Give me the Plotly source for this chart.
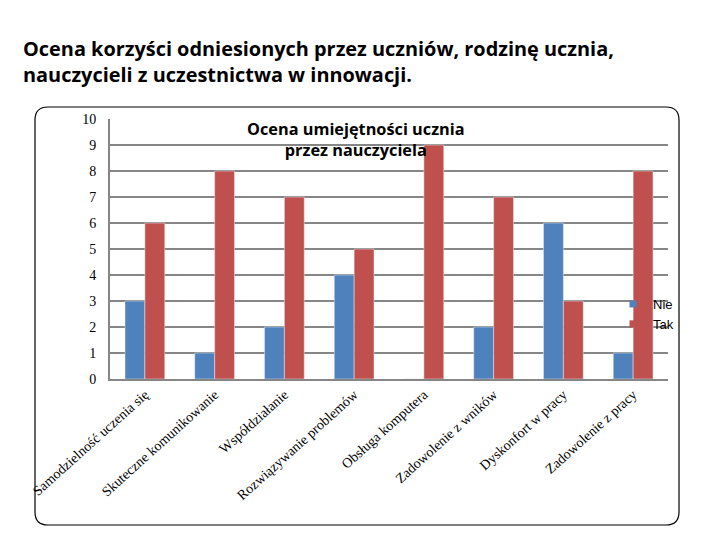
import plotly.graph_objects as go

categories = ["Samodzielność uczenia się", "Skuteczne komunikowanie", "Współdziałanie",
              "Rozwiązywanie problemów", "Obsługa komputera", "Zadowolenie z wników",
              "Dyskonfort w pracy", "Zadowolenie z pracy"]
nie = [3, 1, 2, 4, 0, 2, 6, 1]
tak = [6, 8, 7, 5, 9, 7, 3, 8]
y_ticks = [0, 1, 2, 3, 4, 5, 6, 7, 8, 9, 10]
blue, red = "#4F81BD", "#C0504D"

W, H = 720, 540
L, R, T, B = 110, 668, 119, 379

def px(x):
    return (x - L) / (R - L)

def py(y):
    return (B - y) / (B - T)

fig = go.Figure()
fig.add_trace(go.Bar(x=categories, y=nie, name="Nie", marker_color=blue, showlegend=False))
fig.add_trace(go.Bar(x=categories, y=tak, name="Tak", marker_color=red, showlegend=False))
# legend entries (small square markers, like the original)
fig.add_trace(go.Scatter(x=[None], y=[None], mode="markers", name="Nie",
                         marker=dict(symbol="square", size=7, color=blue)))
fig.add_trace(go.Scatter(x=[None], y=[None], mode="markers", name="Tak",
                         marker=dict(symbol="square", size=7, color=red)))

# rounded rectangle frame
x0, y0, x1, y1, r = 35, 107, 679, 525, 13
path = (f"M {px(x0 + r)},{py(y0)} L {px(x1 - r)},{py(y0)} Q {px(x1)},{py(y0)} {px(x1)},{py(y0 + r)} "
        f"L {px(x1)},{py(y1 - r)} Q {px(x1)},{py(y1)} {px(x1 - r)},{py(y1)} "
        f"L {px(x0 + r)},{py(y1)} Q {px(x0)},{py(y1)} {px(x0)},{py(y1 - r)} "
        f"L {px(x0)},{py(y0 + r)} Q {px(x0)},{py(y0)} {px(x0 + r)},{py(y0)} Z")

fig.update_layout(
    width=W, height=H,
    margin=dict(l=L, r=W - R, t=T, b=H - B, pad=0),
    paper_bgcolor="white", plot_bgcolor="white",
    barmode="group", bargap=0.43, bargroupgap=0.0,
    showlegend=True,
    legend=dict(x=px(613), y=py(289), xanchor="left", yanchor="top",
                bgcolor="rgba(0,0,0,0)", itemwidth=30,
                font=dict(family="Liberation Sans, Arial", size=13, color="black"),
                tracegroupgap=0),
    shapes=[dict(type="path", path=path, xref="paper", yref="paper",
                 line=dict(color="black", width=1.2), fillcolor="rgba(0,0,0,0)", layer="below")],
    annotations=[
        dict(text="<b>Ocena korzyści odniesionych przez uczniów, rodzinę ucznia,<br>nauczycieli z uczestnictwa w innowacji.</b>",
             x=px(21), y=py(33), xref="paper", yref="paper", xanchor="left", yanchor="top",
             align="left", showarrow=False,
             font=dict(family="Open Sans, Liberation Sans", size=19.9, color="black")),
        dict(text="<b>Ocena umiejętności ucznia<br>przez nauczyciela</b>",
             x=px(356), y=py(139), xref="paper", yref="paper", xanchor="center", yanchor="middle",
             align="center", showarrow=False,
             font=dict(family="Open Sans, Liberation Sans", size=16.3, color="black")),
    ],
)

fig.update_xaxes(tickangle=-42, tickfont=dict(family="Liberation Serif, Times New Roman", size=14, color="black"),
                 showline=True, linecolor="#868686", linewidth=2, ticks="", showgrid=False)
fig.update_yaxes(range=[0, 10], tickvals=y_ticks, tickfont=dict(family="Liberation Serif, Times New Roman", size=14, color="black"),
                 showline=True, linecolor="#868686", linewidth=2, showgrid=True, gridcolor="#868686", gridwidth=2,
                 ticks="outside", ticklen=9, tickcolor="rgba(0,0,0,0)", zeroline=False)

fig.write_html("out.html")
